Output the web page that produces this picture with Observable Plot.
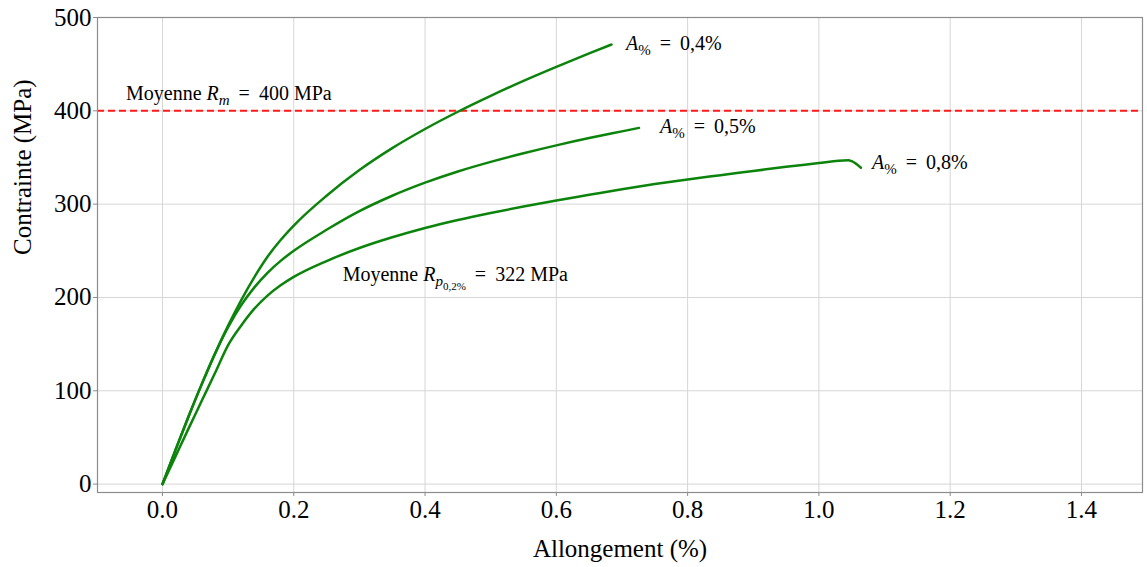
<!DOCTYPE html>
<html><head><meta charset="utf-8">
<script src="https://cdn.jsdelivr.net/npm/d3@7"></script>
<script src="https://cdn.jsdelivr.net/npm/@observablehq/plot@0.6"></script>
<style>body{margin:0;background:#fff;}</style>
</head><body><div id="chart"></div>
<script>
// Curve A% = 0,4%
const xA04 = [0, 0.02, 0.04, 0.06, 0.08, 0.1, 0.12, 0.14, 0.16, 0.18, 0.2, 0.25, 0.3, 0.35, 0.4, 0.45, 0.5, 0.55, 0.6, 0.65, 0.684];
const yA04 = [0, 37, 73, 107.4, 139.8, 169.8, 197.2, 221.8, 243.6, 261.5, 277, 309, 336.5, 360, 380.5, 399, 416, 432, 447, 461.5, 471];
// Curve A% = 0,5%
const xA05 = [0, 0.02, 0.04, 0.06, 0.08, 0.1, 0.12, 0.14, 0.16, 0.18, 0.2, 0.25, 0.3, 0.35, 0.4, 0.45, 0.5, 0.55, 0.6, 0.65, 0.7, 0.726];
const yA05 = [0, 37, 73, 107.4, 139.8, 168.2, 191.8, 210.8, 226.4, 239.2, 250.0, 272.5, 292.5, 309, 323, 335, 345.3, 354.5, 363, 370.8, 378, 381.7];
// Curve A% = 0,8%
const xA08 = [0, 0.02, 0.04, 0.06, 0.08, 0.1, 0.12, 0.14, 0.16, 0.18, 0.2, 0.25, 0.3, 0.35, 0.4, 0.45, 0.5, 0.55, 0.6, 0.65, 0.7, 0.75, 0.8, 0.85, 0.9, 0.95, 1.0, 1.03, 1.045, 1.05, 1.064];
const yA08 = [0, 30, 60, 89.5, 119, 149, 170, 188, 202, 213, 222, 239, 253, 264.5, 274.5, 283, 290.5, 297.5, 304, 310, 316, 321.5, 326.5, 331, 335.5, 340, 344, 346.5, 347, 346, 339];

const seriesNames = ["A04", "A05", "A08"];

// Annotations
const labelTexts = ["A% = 0,4%", "A% = 0,5%", "A% = 0,8%", "Moyenne Rm = 400 MPa", "Moyenne Rp0,2% = 322 MPa"];
const labelX = [0.706, 0.758, 1.081, -0.0556, 0.2745];
const labelY = [472, 382.6, 345, 418.5, 224.4];

const rmValue = 400;
const xTicks = [0, 0.2, 0.4, 0.6, 0.8, 1.0, 1.2, 1.4];
const yTicks = [0, 100, 200, 300, 400, 500];
const xLabel = "Allongement (%)";
const yLabel = "Contrainte (MPa)";

const curves = [
  ...xA04.map((x, i) => ({s: seriesNames[0], x, y: yA04[i]})),
  ...xA05.map((x, i) => ({s: seriesNames[1], x, y: yA05[i]})),
  ...xA08.map((x, i) => ({s: seriesNames[2], x, y: yA08[i]}))
];
const labels = labelTexts.map((t, i) => ({t, x: labelX[i], y: labelY[i]}));

const plot = Plot.plot({
  width: 1147, height: 567,
  marginLeft: 97, marginRight: 5, marginTop: 17, marginBottom: 75,
  style: {fontFamily: "Liberation Serif", fontSize: "25px", background: "white", color: "black"},
  x: {domain: [-0.099, 1.493]},
  y: {domain: [-9, 500]},
  marks: [
    Plot.gridX(xTicks, {stroke: "#d6d6d6", strokeOpacity: 1, strokeWidth: 1}),
    Plot.gridY(yTicks, {stroke: "#d6d6d6", strokeOpacity: 1, strokeWidth: 1}),
    Plot.ruleY([rmValue], {stroke: "#ff1a1a", strokeWidth: 2, strokeDasharray: "7,4"}),
    Plot.line(curves, {x: "x", y: "y", z: "s", stroke: "#0c840c", strokeWidth: 2.5, curve: "monotone-x"}),
    Plot.frame({stroke: "#8c8c8c", strokeWidth: 1.2}),
    Plot.axisX(xTicks, {tickFormat: d3.format(".1f"), tickSize: 4, tickPadding: 4, stroke: "#8c8c8c", fill: "black", fontSize: 25, label: null}),
    Plot.axisY(yTicks, {tickFormat: d3.format("d"), tickSize: 4, tickPadding: 2, stroke: "#8c8c8c", fill: "black", fontSize: 25, label: null}),
    Plot.text(labels, {x: "x", y: "y", text: "t", textAnchor: "start", fontSize: 20, fill: "black"}),
    Plot.text([xLabel], {frameAnchor: "bottom", dy: 64, fontSize: 25, fill: "black"}),
    Plot.text([yLabel], {frameAnchor: "left", dx: -75, rotate: -90, fontSize: 25, fill: "black"})
  ]
});

// Rich text (italic symbols and subscripts)
const eq = " \u2009=\u2009 ";
const rich = {
  "A% = 0,4%": [["A", 0, true], ["%", 1, false], [eq + "0,4%", 0, false]],
  "A% = 0,5%": [["A", 0, true], ["%", 1, false], [eq + "0,5%", 0, false]],
  "A% = 0,8%": [["A", 0, true], ["%", 1, false], [eq + "0,8%", 0, false]],
  "Moyenne Rm = 400 MPa": [["Moyenne ", 0, false], ["R", 0, true], ["m", 1, true], [eq + "400 MPa", 0, false]],
  "Moyenne Rp0,2% = 322 MPa": [["Moyenne ", 0, false], ["R", 0, true], ["p", 1, true], ["0,2%", 2, false], [eq + "322 MPa", 0, false]]
};
const levelSize = [20, 15, 11];
const levelOffset = [0, 5, 9];
d3.select(plot).selectAll("text").each(function() {
  const parts = rich[this.textContent];
  if (!parts) return;
  const el = d3.select(this);
  el.text(null);
  let cur = 0;
  for (const [t, lvl, it] of parts) {
    el.append("tspan")
      .attr("dy", levelOffset[lvl] - cur)
      .attr("font-size", levelSize[lvl])
      .attr("font-style", it ? "italic" : "normal")
      .text(t);
    cur = levelOffset[lvl];
  }
});

document.getElementById("chart").appendChild(plot);
</script>
</body></html>
